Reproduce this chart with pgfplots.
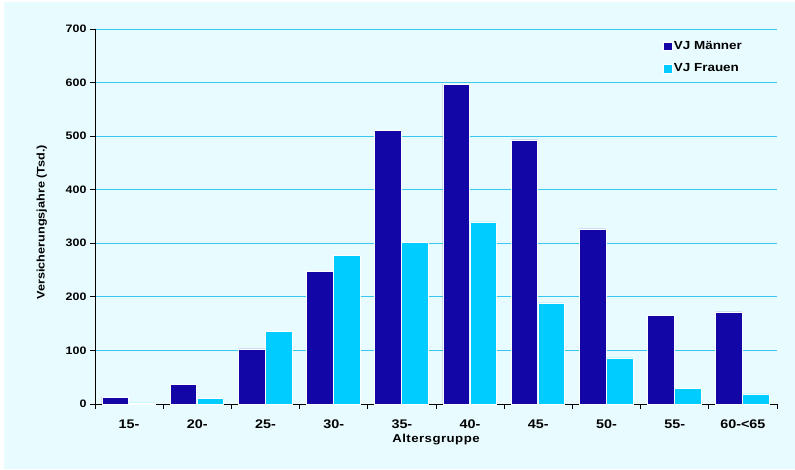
\documentclass[border=0pt]{standalone}
\usepackage{pgfplots}
\pgfplotsset{compat=1.18}
\usepackage{fontspec}
\setmainfont{Liberation Sans}
% slightly widened bold sans for all chart text
\newfontfamily\chartfont[FakeStretch=1.15]{Liberation Sans}
\newfontfamily\chartfontsp[FakeStretch=1.15, LetterSpace=4]{Liberation Sans}

\definecolor{bgcyan}{HTML}{E8FCFF}
\definecolor{gridcyan}{HTML}{38C8EE}
\definecolor{men}{HTML}{1206A6}
\definecolor{women}{HTML}{00CCFF}

\begin{document}
\begin{tikzpicture}
  % page and chart background
  \fill[white] (0pt,0pt) rectangle (795pt,469pt);
  \fill[bgcyan] (4pt,0pt) rectangle (795pt,467pt);
  \useasboundingbox (0pt,0pt) rectangle (795pt,469pt);
  \begin{axis}[
    at={(95pt,65pt)}, anchor=south west,
    scale only axis, width=682pt, height=375pt,
    xmin=-0.5, xmax=9.5, ymin=0, ymax=700,
    axis x line*=bottom, axis y line*=left,
    axis line style={black, line width=0.8pt, -},
    ytick={0,100,...,700},
    ymajorgrids, grid style={gridcyan, line width=0.8pt},
    xtick={0,...,9},
    xticklabels={15-,20-,25-,30-,35-,40-,45-,50-,55-,60-<65},
    major x tick style={draw=none},
    minor xtick={-0.5,0.5,...,9.5},
    minor x tick style={black, line width=0.8pt},
    minor tick length=5pt,
    major tick length=5pt,
    tick align=outside,
    ytick style={black, line width=0.8pt},
    yticklabel style={font=\chartfont\bfseries\fontsize{10.8}{12}\selectfont},
    xticklabel style={font=\chartfont\bfseries\fontsize{12.5}{14}\selectfont, yshift=-7pt},
    /pgf/number format/assume math mode=true,
    every axis x label/.style={at={(axis description cs:0.5,-0.096)}, anchor=center,
      font=\chartfontsp\bfseries\fontsize{11.5}{13}\selectfont},
    every axis y label/.style={at={(axis description cs:-0.078,0.485)}, rotate=90, anchor=center,
      font=\chartfont\bfseries\fontsize{11}{13}\selectfont},
    xlabel={Altersgruppe},
    ylabel={Versicherungsjahre (Tsd.)},
    ybar, bar width=0.39,
    legend style={at={(0.833,0.972)}, anchor=north west, draw=none, fill=none,
      font=\chartfont\bfseries\fontsize{11.7}{13}\selectfont, row sep=10pt,
      inner sep=0pt, nodes={inner sep=1.5pt}},
    legend cell align=left,
    legend image code/.code={\fill[#1] (0pt,-4.2pt) rectangle (8.6pt,4.2pt);},
  ]
    \addplot[fill=men, draw=white, line width=0.5pt, bar shift=-0.205] coordinates {
      (0,13) (1,37) (2,103) (3,248) (4,511) (5,597) (6,493) (7,327) (8,165) (9,172)
    };
    \addlegendentry{VJ Männer}
    \addplot[fill=women, draw=white, line width=0.5pt, bar shift=0.19] coordinates {
      (0,2) (1,10) (2,136) (3,278) (4,302) (5,340) (6,189) (7,86) (8,29) (9,19)
    };
    \addlegendentry{VJ Frauen}
  \end{axis}
\end{tikzpicture}
\end{document}
